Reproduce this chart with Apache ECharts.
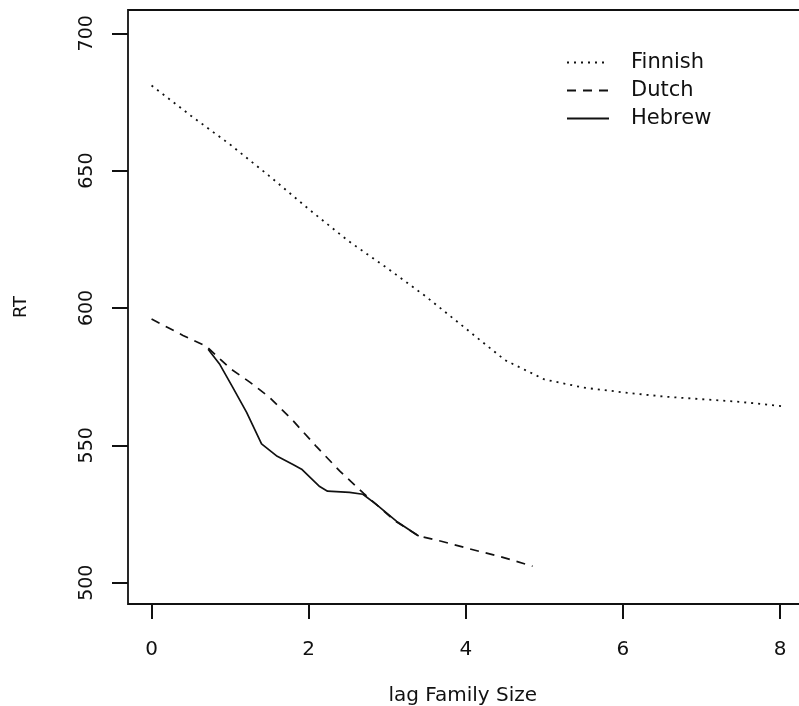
<!DOCTYPE html>
<html>
<head>
<meta charset="utf-8">
<script src="https://cdn.jsdelivr.net/npm/echarts@6/dist/echarts.min.js"></script>
<style>
html,body{margin:0;padding:0;background:#fff;}
#chart{width:799px;height:706px;}
</style>
</head>
<body>
<div id="chart"></div>
<script>
// Data
var finnishX = [0, 0.5, 1, 1.5, 2, 2.5, 3, 3.5, 4, 4.5, 5, 5.5, 6, 6.5, 7, 7.5, 8.04];
var finnishY = [681, 670, 659.5, 648, 636, 624.5, 614.5, 604, 592.5, 581, 574, 571, 569.3, 567.8, 566.8, 565.8, 564.2];

var dutchX = [0, 0.2, 0.4, 0.7, 1, 1.25, 1.5, 1.8, 2.1, 2.4, 2.7, 3.1, 3.4, 3.7, 4.05, 4.45, 4.85];
var dutchY = [596, 593, 590, 586, 578, 573, 567.5, 559, 549.5, 540.5, 532.5, 522.5, 517, 515, 512.3, 509.4, 506];

var hebrewX = [0.72, 0.87, 1.03, 1.21, 1.4, 1.6, 1.8, 1.91, 2.14, 2.24, 2.52, 2.69, 2.86, 3.12, 3.4];
var hebrewY = [585, 579.4, 571.3, 562, 550.5, 546, 543, 541.3, 535, 533.3, 532.9, 532.2, 528.5, 522.3, 517];

var xTicks = [0, 2, 4, 6, 8];
var yTicks = [500, 550, 600, 650, 700];

function zip(xs, ys) { return xs.map(function (x, i) { return [x, ys[i]]; }); }

var ink = '#111111';
var font = 'DejaVu Sans';

var chart = echarts.init(document.getElementById('chart'), null, {renderer: 'canvas'});
chart.setOption({
  animation: false,
  backgroundColor: '#fff',
  grid: {
    left: 128, top: 10, bottom: 102, right: -8.5,
    outerBoundsMode: 'none',
    containLabel: false,
    show: true, borderColor: ink, borderWidth: 1.8, backgroundColor: 'transparent'
  },
  legend: {
    orient: 'vertical',
    left: 561, top: 47,
    itemWidth: 42, itemHeight: 14, itemGap: 7,
    itemStyle: {opacity: 0},
    textStyle: {fontFamily: font, fontSize: 21, color: ink, lineHeight: 21, padding: [0, 0, 0, 17]},
    data: ['Finnish', 'Dutch', 'Hebrew']
  },
  xAxis: {
    type: 'value',
    min: -0.30, max: 8.35,
    name: 'lag Family Size',
    nameLocation: 'middle',
    nameGap: 82,
    nameTextStyle: {fontFamily: font, fontSize: 20, color: ink, padding: [0, 10, 0, 0]},
    axisLine: {show: false, onZero: false},
    splitLine: {show: false},
    axisTick: {show: true, customValues: xTicks, length: 15, lineStyle: {color: ink, width: 2}},
    axisLabel: {customValues: xTicks, margin: 36, fontFamily: font, fontSize: 20, color: ink}
  },
  yAxis: {
    type: 'value',
    min: 492.24, max: 708.47,
    name: 'RT',
    nameLocation: 'middle',
    nameGap: 98,
    nameTextStyle: {fontFamily: font, fontSize: 18, color: ink},
    axisLine: {show: false, onZero: false},
    splitLine: {show: false},
    axisTick: {show: true, customValues: yTicks, length: 16, lineStyle: {color: ink, width: 2}},
    axisLabel: {customValues: yTicks, margin: 31, rotate: 90, fontFamily: font, fontSize: 19, color: ink}
  },
  series: [
    {
      name: 'Finnish', type: 'line', symbol: 'none', smooth: false,
      data: zip(finnishX, finnishY),
      lineStyle: {color: ink, width: 1.8, type: [2, 5]},
      itemStyle: {color: ink}
    },
    {
      name: 'Dutch', type: 'line', symbol: 'none',
      data: zip(dutchX, dutchY),
      lineStyle: {color: ink, width: 1.7, type: [9, 7]},
      itemStyle: {color: ink}
    },
    {
      name: 'Hebrew', type: 'line', symbol: 'none',
      data: zip(hebrewX, hebrewY),
      lineStyle: {color: ink, width: 1.7, type: 'solid'},
      itemStyle: {color: ink}
    }
  ]
});
</script>
</body>
</html>
